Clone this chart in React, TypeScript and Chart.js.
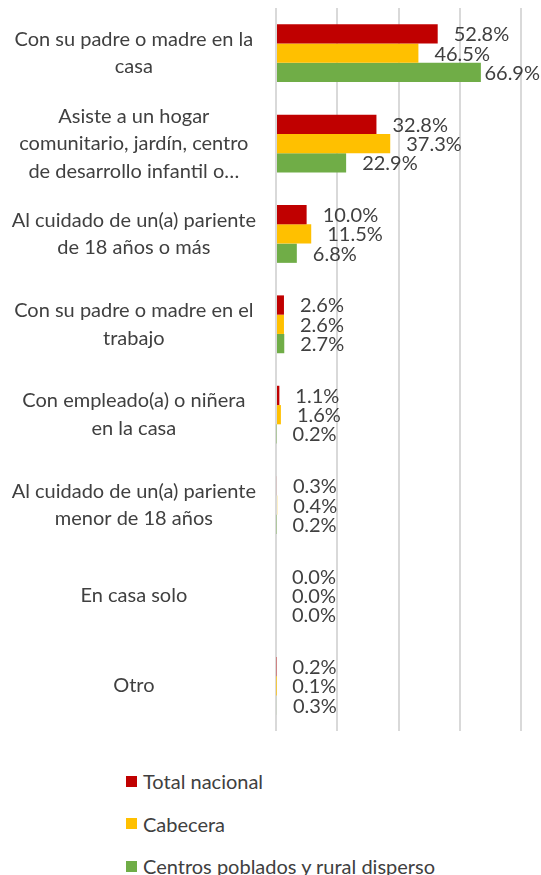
import React, { useEffect, useRef } from "react";
import { Chart, registerables } from "chart.js";

Chart.register(...registerables);

const categories: (string | string[])[] = [
  ["Con su padre o madre en la", "casa"],
  ["Asiste a un hogar", "comunitario, jardín, centro", "de desarrollo infantil o…"],
  ["Al cuidado de un(a) pariente", "de 18 años o más"],
  ["Con su padre o madre en el", "trabajo"],
  ["Con empleado(a) o niñera", "en la casa"],
  ["Al cuidado de un(a) pariente", "menor de 18 años"],
  "En casa solo",
  "Otro",
];

const seriesNames = ["Total nacional", "Cabecera", "Centros poblados y rural disperso"];
const totalNacional = [52.8, 32.8, 10.0, 2.6, 1.1, 0.3, 0.0, 0.2];
const cabecera = [46.5, 37.3, 11.5, 2.6, 1.6, 0.4, 0.0, 0.1];
const centrosPoblados = [66.9, 22.9, 6.8, 2.7, 0.2, 0.2, 0.0, 0.3];
const seriesColors = ["#C00000", "#FFC000", "#70AD47"];

const xMin = 0;
const xMax = 80;
const xStep = 20;

const FONT = "Lato";
const TEXT_COLOR = "#404040";

const dataLabelPlugin = {
  id: "dataLabels",
  afterDatasetsDraw(chart: any) {
    const ctx = chart.ctx;
    ctx.save();
    ctx.font = `20px ${FONT}`;
    ctx.fillStyle = TEXT_COLOR;
    ctx.textBaseline = "middle";
    ctx.textAlign = "left";
    chart.data.datasets.forEach((ds: any, i: number) => {
      const meta = chart.getDatasetMeta(i);
      meta.data.forEach((bar: any, j: number) => {
        const v = ds.data[j] as number;
        const text = v.toFixed(1) + "%";
        const w = ctx.measureText(text).width;
        let x = bar.x + 16;
        if (x + w > chart.width - 1) x = chart.width - 1 - w;
        ctx.fillText(text, x, bar.y + 1);
      });
    });
    ctx.restore();
  },
};

export default function App() {
  const canvasRef = useRef<HTMLCanvasElement>(null);

  useEffect(() => {
    if (!canvasRef.current) return;
    const chart = new Chart(canvasRef.current, {
      type: "bar",
      data: {
        labels: categories,
        datasets: [totalNacional, cabecera, centrosPoblados].map((d, i) => ({
          label: seriesNames[i],
          data: d,
          backgroundColor: seriesColors[i],
          borderWidth: 0,
          barPercentage: 1,
          categoryPercentage: 0.64,
        })),
      },
      options: {
        indexAxis: "y",
        animation: false,
        responsive: true,
        maintainAspectRatio: false,
        layout: { padding: { top: 8, right: 20, bottom: 4, left: 0 } },
        plugins: {
          legend: { display: false },
          tooltip: { enabled: false },
        },
        scales: {
          x: {
            min: xMin,
            max: xMax,
            ticks: { display: false, stepSize: xStep },
            grid: { color: "#D9D9D9", lineWidth: 2, drawTicks: false },
            border: { display: false },
            afterFit: (scale: any) => {
              scale.height = 0;
              scale.paddingLeft = 0;
              scale.paddingRight = 0;
            },
          },
          y: {
            grid: { display: false, drawTicks: false },
            border: { display: false },
            ticks: {
              crossAlign: "center",
              padding: 20,
              color: TEXT_COLOR,
              font: { family: FONT, size: 20, lineHeight: "27.5px" },
            },
            afterFit: (scale: any) => {
              scale.width = 276;
              scale.paddingTop = 0;
              scale.paddingBottom = 0;
            },
          },
        },
      },
      plugins: [dataLabelPlugin],
    });
    return () => chart.destroy();
  }, []);

  const legendTops = [781, 823.5, 866];

  return (
    <div
      style={{
        position: "absolute",
        left: 0,
        top: 0,
        width: 541,
        height: 875,
        overflow: "hidden",
        fontFamily: FONT,
      }}
    >
      <div style={{ position: "absolute", left: 0, top: 0, width: 541, height: 735 }}>
        <canvas ref={canvasRef} />
      </div>
      {seriesNames.map((name, i) => (
        <div
          key={name}
          style={{
            position: "absolute",
            left: 126,
            top: legendTops[i] - 15,
            height: 30,
            display: "flex",
            alignItems: "center",
            whiteSpace: "nowrap",
            color: TEXT_COLOR,
            fontSize: 20,
          }}
        >
          <span
            style={{
              display: "inline-block",
              width: 11,
              height: 11,
              background: seriesColors[i],
              marginRight: 6,
            }}
          />
          <span>{name}</span>
        </div>
      ))}
    </div>
  );
}
